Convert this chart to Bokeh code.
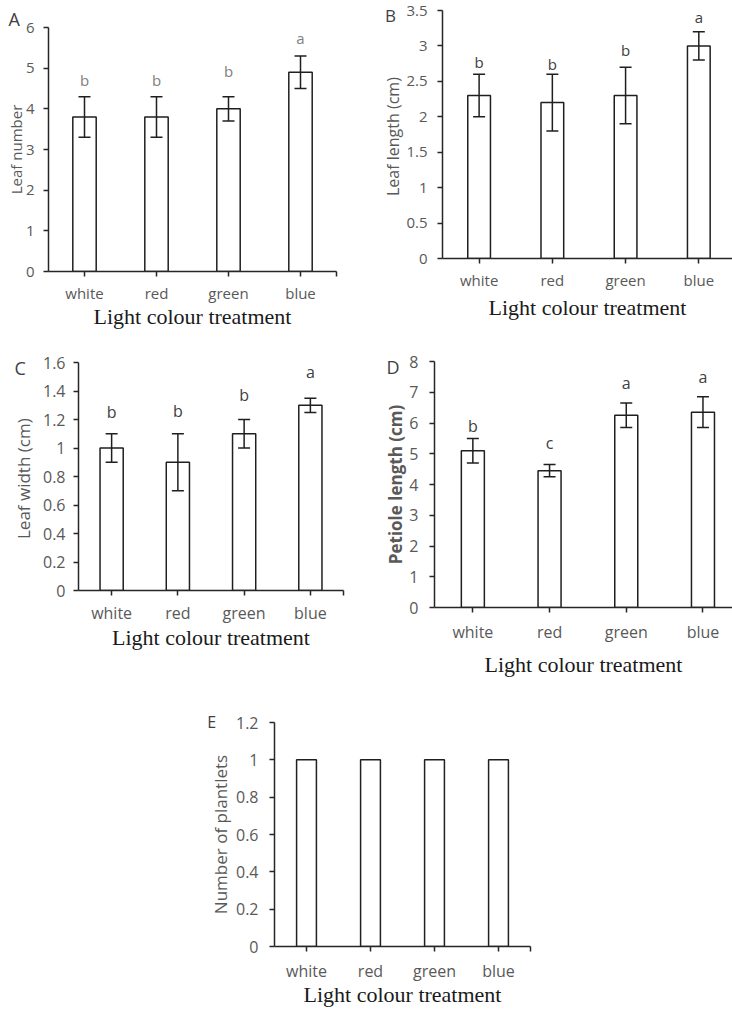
from bokeh.plotting import figure
from bokeh.models import (Range1d, FixedTicker, Whisker, TeeHead, ColumnDataSource,
                          Title, Spacer, CustomJSTickFormatter)
from bokeh.layouts import row, column
from bokeh.embed import file_html
from bokeh.resources import INLINE
from bokeh.core.properties import value

# ---------------- data ----------------
categories = ["white", "red", "green", "blue"]
x_title = "Light colour treatment"

leaf_number = [3.8, 3.8, 4.0, 4.9]
leaf_number_err = [0.5, 0.5, 0.3, 0.4]
leaf_number_letters = ["b", "b", "b", "a"]
leaf_number_letter_y = [4.7, 4.7, 4.92, 5.73]
leaf_number_ticks = [0, 1, 2, 3, 4, 5, 6]

leaf_length = [2.3, 2.2, 2.3, 3.0]
leaf_length_err = [0.3, 0.4, 0.4, 0.2]
leaf_length_letters = ["b", "b", "b", "a"]
leaf_length_letter_y = [2.77, 2.75, 2.94, 3.41]
leaf_length_ticks = [0, 0.5, 1, 1.5, 2, 2.5, 3, 3.5]

leaf_width = [1.0, 0.9, 1.1, 1.3]
leaf_width_err = [0.1, 0.2, 0.1, 0.05]
leaf_width_letters = ["b", "b", "b", "a"]
leaf_width_letter_y = [1.25, 1.26, 1.37, 1.53]
leaf_width_ticks = [0, 0.2, 0.4, 0.6, 0.8, 1, 1.2, 1.4, 1.6]

petiole_length = [5.1, 4.45, 6.25, 6.35]
petiole_length_err = [0.4, 0.2, 0.4, 0.5]
petiole_letters = ["b", "c", "a", "a"]
petiole_letter_y = [5.9, 5.36, 7.3, 7.5]
petiole_ticks = [0, 1, 2, 3, 4, 5, 6, 7, 8]

plantlets = [1, 1, 1, 1]
plantlets_ticks = [0, 0.2, 0.4, 0.6, 0.8, 1, 1.2]

SANS = "Open Sans"
SERIF = "Liberation Serif"
TICK_COL = "#595959"
INK = "#1f1f1f"


def panel(tag, vals, errs, letters, letter_y, ticks, ylabel, g):
    fl, ft, fr, fb = g["fig"]
    L, T, R, B = g["frame"]
    n = len(categories)
    xs = [i + 0.5 for i in range(n)]
    p = figure(width=fr - fl, height=fb - ft, output_backend="svg", toolbar_location=None,
               min_border_left=L - fl, min_border_right=fr - R,
               min_border_top=T - ft, min_border_bottom=fb - B,
               x_range=Range1d(0, g["xend"]), y_range=Range1d(0, ticks[-1]))
    p.xgrid.visible = False
    p.ygrid.visible = False
    p.outline_line_color = None
    p.background_fill_color = "white"
    p.border_fill_color = "white"

    p.vbar(x=xs, top=vals, bottom=0, width=g["bw"], fill_color="white",
           line_color=INK, line_width=1.5)

    if errs is not None:
        src = ColumnDataSource(dict(x=xs,
                                    lower=[v - e for v, e in zip(vals, errs)],
                                    upper=[v + e for v, e in zip(vals, errs)]))
        p.add_layout(Whisker(source=src, base="x", lower="lower", upper="upper",
                             level="overlay", line_color=INK, line_width=1.5,
                             lower_head=TeeHead(size=12, line_width=1.5, line_color=INK),
                             upper_head=TeeHead(size=12, line_width=1.5, line_color=INK)))
    if letters is not None:
        p.text(x=xs, y=letter_y, text=letters, text_align="center", text_baseline="middle",
               text_font=value(SANS), text_font_size=g["lfs"], text_color=g["lcol"])

    for ax in (p.xaxis[0], p.yaxis[0]):
        ax.axis_line_color = "#262626"
        ax.axis_line_width = 1.5
        ax.major_tick_line_color = "#262626"
        ax.major_tick_line_width = 1.5
        ax.major_tick_out = 5
        ax.major_tick_in = 0
        ax.minor_tick_line_color = None
        ax.major_label_text_font = SANS
        ax.major_label_text_color = TICK_COL

    xa = p.xaxis[0]
    xticks = list(xs)
    if g["xend"] >= n:
        xticks.append(n)
    xa.ticker = FixedTicker(ticks=xticks)
    xa.formatter = CustomJSTickFormatter(
        args=dict(labels=categories),
        code="if (Number.isInteger(tick)) { return ''; } return labels[Math.round(tick - 0.5)];")
    xa.major_label_text_font_size = g["tfs"]
    xa.major_label_standoff = g["xls"]
    xa.axis_label = x_title
    xa.axis_label_text_font = SERIF
    xa.axis_label_text_font_size = "22px"
    xa.axis_label_text_font_style = "normal"
    xa.axis_label_text_color = "#1a1a1a"
    xa.axis_label_standoff = g["xas"]

    ya = p.yaxis[0]
    ya.ticker = FixedTicker(ticks=ticks)
    ya.formatter = CustomJSTickFormatter(code="return String(tick)")
    ya.major_label_text_font_size = g["tfs"]
    ya.major_label_standoff = g["yls"]
    ya.axis_label = ylabel
    ya.axis_label_text_font = SANS
    ya.axis_label_text_font_size = g["yfs"]
    ya.axis_label_text_font_style = g.get("ystyle", "normal")
    ya.axis_label_text_color = g.get("ycol", TICK_COL)
    ya.axis_label_standoff = g["yas"]

    # panel tag as a title in the top panel, shifted to its page position
    fs = g.get("tagfs", 18)
    cx, cy = g["tag"]
    left_edge = cx - 0.33 * fs
    bottom_edge = cy + 0.65 * fs
    p.add_layout(Title(text=tag, align="left", offset=left_edge - L,
                       standoff=int(round(2 * (T - bottom_edge))),
                       text_font=SANS, text_font_size=f"{fs}px", text_font_style="normal",
                       text_color="#404040"), "above")
    return p


pA = panel("A", leaf_number, leaf_number_err, leaf_number_letters, leaf_number_letter_y,
           leaf_number_ticks, "Leaf number",
           dict(fig=(0, 0, 360, 332), frame=(48, 27, 336, 271), xend=4, bw=0.325,
                tfs="15px", xls=6, xas=-2, yls=9, yas=-3, yfs="15px",
                lfs="15px", lcol="#7f7f7f", tag=(14, 19)))

pC = panel("C", leaf_width, leaf_width_err, leaf_width_letters, leaf_width_letter_y,
           leaf_width_ticks, "Leaf width  (cm)",
           dict(fig=(0, 332, 360, 660), frame=(78, 362, 343, 590), xend=4, bw=0.35,
                tfs="16px", xls=6, xas=-2, yls=8, yas=5, yfs="17px",
                lfs="16px", lcol="#404040", tag=(20, 368)))

pB = panel("B", leaf_length, leaf_length_err, leaf_length_letters, leaf_length_letter_y,
           leaf_length_ticks, "Leaf length  (cm)",
           dict(fig=(360, 0, 732, 325), frame=(442, 10, 732, 258), xend=3.96, bw=0.31,
                tfs="15px", xls=6, xas=2, yls=10, yas=-1, yfs="16px",
                lfs="15px", lcol="#404040", tag=(390, 15), tagfs=17))

pD = panel("D", petiole_length, petiole_length_err, petiole_letters, petiole_letter_y,
           petiole_ticks, "Petiole length (cm)",
           dict(fig=(360, 325, 732, 690), frame=(434, 361, 732, 607), xend=3.885, bw=0.3,
                tfs="16px", xls=8, xas=6, yls=11, yas=-1, yfs="17px", ystyle="bold",
                lfs="16px", lcol="#404040", tag=(392, 367)))

pE = panel("E", plantlets, None, None, None,
           plantlets_ticks, "Number of plantlets",
           dict(fig=(180, 690, 545, 1009), frame=(274, 722, 530, 948), xend=4, bw=0.31,
                tfs="16px", xls=8, xas=-3, yls=11, yas=1, yfs="17px",
                lfs="16px", lcol="#404040", tag=(212, 722), tagfs=16))

left = column(row(pA), row(pC))
right = column(row(pB), row(pD))
layout = column(row(left, right),
                row(Spacer(width=180, height=319), pE))

open("out.html", "w").write(file_html(layout, INLINE))
